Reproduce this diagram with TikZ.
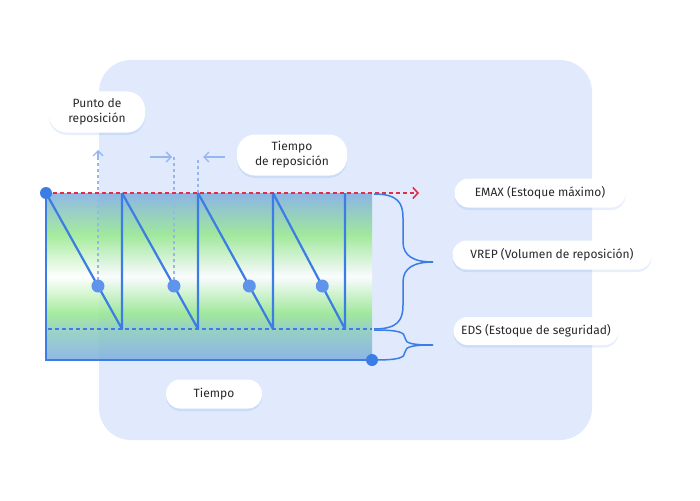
\documentclass[tikz,border=0pt]{standalone}
\usepackage{fontspec}
\setmainfont{Fira Sans}
\usepackage{tikz}
\usetikzlibrary{arrows.meta, positioning, calc, shadows}
\definecolor{panelblue}{RGB}{224,234,252}
\definecolor{lineblue}{RGB}{59,125,228}
\definecolor{dotblue}{RGB}{96,148,236}
\definecolor{hintblue}{RGB}{150,182,240}
\definecolor{alertred}{RGB}{226,45,70}
\definecolor{labelgray}{RGB}{40,40,45}
\definecolor{shblue}{RGB}{125,172,226}
\definecolor{shgreen}{RGB}{150,232,140}
\definecolor{shteal}{RGB}{140,205,185}
\pgfdeclareverticalshading{stock}{100bp}{%
  color(0bp)=(shblue); color(25bp)=(shblue); color(34.5bp)=(shteal);
  color(39bp)=(shgreen); color(50bp)=(white); color(62.5bp)=(shgreen);
  color(75bp)=(shblue); color(100bp)=(shblue)}
\tikzset{
  pill/.style={rectangle, rounded corners=14pt, fill=white, text=labelgray,
    font=\fontsize{12}{15}\selectfont, align=center, minimum height=29pt,
    drop shadow={shadow xshift=0pt, shadow yshift=-2.5pt, fill=lineblue, opacity=0.12}},
  saw/.style={draw=lineblue, line width=2.2pt, line join=round},
  axisline/.style={draw=lineblue, line width=2.2pt},
  hint/.style={draw=hintblue, line width=1.1pt, dash pattern=on 3pt off 3pt},
  hintarrow/.style={-{Straight Barb[length=5pt, width=10pt]}, draw=hintblue, line width=1.3pt},
  brc/.style={draw=lineblue, line width=1.5pt},
  dot/.style={circle, fill=dotblue, inner sep=0pt, minimum size=13pt},
  enddot/.style={circle, fill=lineblue, inner sep=0pt, minimum size=12pt},
}

\begin{document}
\begin{tikzpicture}[x=1pt, y=-1pt]
\useasboundingbox (0,0) rectangle (700,500);
% background panel
\fill[panelblue, rounded corners=32pt] (99,60) rectangle (592,440);

% chart area
\coordinate (top) at (46,193);
\coordinate (origin) at (46,360);
\coordinate (end) at (372,360);
\shade[shading=stock, fill opacity=0.85] (46,193) rectangle (372,360);
\draw[lineblue, line width=1.2pt, dash pattern=on 4pt off 3pt] (48,329) -- (372,329);

% reorder hints
\draw[hint] (98,286) -- (98,152);
\draw[hint] (174,286) -- (174,157);
\draw[hint] (198,193) -- (198,157);
\draw[hintarrow] (98,160) -- (98,150);
\draw[hintarrow] (150,157) -- (172,157);
\draw[hintarrow] (225,157) -- (203,157);

% sawtooth
\foreach \a/\b [count=\i] in {46/122,122/198,198/273,273/345}{
  \draw[saw] (\a,193) -- (\b,329) -- (\b,193);
  \node[dot] (d\i) at ($(\a,193)!0.684!(\b,329)$) {};
}

\draw[axisline] (top) -- (origin) -- (end);
\draw[alertred, line width=1.6pt, dash pattern=on 4pt off 3pt,
  -{Straight Barb[length=5pt, width=11pt]}] (top) -- (419,193);
\node[enddot] (p0) at (top) {};
\node[enddot] (p1) at (end) {};

% braces
\draw[brc] (374,194) .. controls (398,194) and (403,203) .. (403,218) -- (403,242)
  .. controls (403,256) and (414,262) .. (433,262);
\draw[brc] (374,329) .. controls (398,329) and (403,320) .. (403,305) -- (403,282)
  .. controls (403,268) and (414,262) .. (433,262);
\draw[brc] (374,330) .. controls (398,330) and (405,332) .. (405,338)
  .. controls (405,344) and (415,345) .. (433,345);
\draw[brc] (374,360) .. controls (398,360) and (405,358) .. (405,352)
  .. controls (405,346) and (415,345) .. (433,345);

% labels
\node[pill, rounded corners=18pt, minimum width=96pt, minimum height=41pt] (punto) at (97,112) {Punto de\\reposición};
\node[pill, rounded corners=18pt, minimum width=110pt, minimum height=41pt] (trep) at (292,155) {Tiempo\\de reposición};
\node[pill, minimum width=171pt] (emax) at (540,193) {EMAX (Estoque máximo)};
\node[pill, minimum width=199pt] (vrep) at (552,255) {VREP (Volumen de reposición)};
\node[pill, minimum width=165pt, minimum height=28pt] (eds) at (536,331) {EDS (Estoque de seguridad)};
\node[pill, minimum width=96pt] (tiempo) at (214,394) {Tiempo};
\end{tikzpicture}
\end{document}
